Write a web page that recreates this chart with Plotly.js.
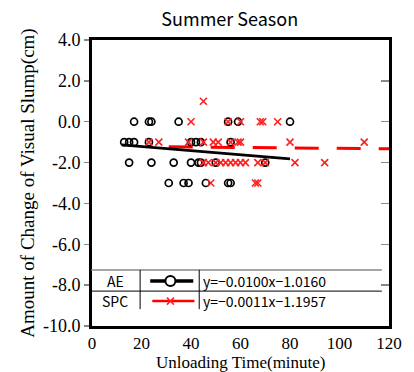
<!DOCTYPE html>
<html><head><meta charset="utf-8">
<script src="https://cdn.plot.ly/plotly-3.0.1.min.js"></script>
<style>html,body{margin:0;padding:0;background:#fff}#c{width:414px;height:372px}</style>
</head><body><div id="c"></div>
<script>
// AE data (black circles)
const aeX = [17,23,24,35,55,59,80, 13,15,17,23,40,42,44,56, 15,24,33,40,43,44,50,70, 31,37,39,46,55,56];
const aeY = [0,0,0,0,0,0,0, -1,-1,-1,-1,-1,-1,-1,-1, -2,-2,-2,-2,-2,-2,-2,-2, -3,-3,-3,-3,-3,-3];
// SPC data (red crosses)
const spcX = [45, 40,55,60,68,69,75, 23,27,39,45,49,51,56,59,60,80,110, 45,47,50,52,54,56,58,60,62,67,70,82,94, 48,66,67];
const spcY = [1, 0,0,0,0,0,0, -1,-1,-1,-1,-1,-1,-1,-1,-1,-1,-1, -2,-2,-2,-2,-2,-2,-2,-2,-2,-2,-2,-2,-2, -3,-3,-3];
// regression lines
const aeFit = {slope: -0.0100, intercept: -1.0160, xRange: [12, 80]};
const spcFit = {slope: -0.0011, intercept: -1.1957, xRange: [31, 120]};
const eqAE = "y=\u22120.0100x\u22121.0160";
const eqSPC = "y=\u22120.0011x\u22121.1957";
// ticks
const xTickVals = [0,20,40,60,80,100,120];
const xTickText = ["0","20","40","60","80","100","120"];
const yTickVals = [4,2,0,-2,-4,-6,-8,-10];
const yTickText = ["4.0","2.0","0.0","-2.0","-4.0","-6.0","-8.0","-10.0"];
const xTitle = 'Unloading Time(minute)';
const yTitle = 'Amount of Change of Visual Slump(cm)';

const fitLine = f => ({x: f.xRange, y: f.xRange.map(v => f.slope*v + f.intercept)});
const aeL = fitLine(aeFit), spcL = fitLine(spcFit);

const serif = "Liberation Serif, Times New Roman, serif";
const sans = "Noto Sans CJK JP, DejaVu Sans, sans-serif";

const traces = [
  {x: spcL.x, y: spcL.y, mode: 'lines', line: {color: '#ff0000', width: 3, dash: '24px,18px'}, hoverinfo: 'skip'},
  {x: aeL.x, y: aeL.y, mode: 'lines', line: {color: '#000', width: 2.8}, hoverinfo: 'skip'},
  {x: aeX, y: aeY, mode: 'markers', marker: {symbol: 'circle-open', size: 7, color: '#000', line: {width: 1.7}}},
  {x: spcX, y: spcY, mode: 'markers', marker: {symbol: 'x-thin-open', size: 7, color: '#ff2020', line: {width: 1.6, color: '#ff2020'}}},
  {x: [], y: [], yaxis: 'y2'}
];

const P = (o) => Object.assign({xref: 'paper', yref: 'paper'}, o);
const shapes = [
  P({type: 'line', x0: -0.003, x1: 0.976, y0: 0.196, y1: 0.196, line: {color: '#888', width: 1.5}}),
  P({type: 'line', x0: 0, x1: 0.976, y0: 0.122, y1: 0.122, line: {color: '#000', width: 1}}),
  P({type: 'line', x0: 0.162, x1: 0.162, y0: 0.196, y1: 0.059, line: {color: '#000', width: 1}}),
  P({type: 'line', x0: 0.361, x1: 0.361, y0: 0.196, y1: 0.059, line: {color: '#000', width: 1}}),
  P({type: 'line', x0: 0.196, x1: 0.341, y0: 0.157, y1: 0.157, line: {color: '#000', width: 3.5}}),
  P({type: 'circle', xsizemode: 'pixel', ysizemode: 'pixel', xanchor: 0.264, yanchor: 0.157, x0: -5, x1: 5, y0: -5, y1: 5, fillcolor: '#fff', line: {color: '#000', width: 2}}),
  P({type: 'line', x0: 0.203, x1: 0.345, y0: 0.087, y1: 0.087, line: {color: '#ff0000', width: 2.5}}),
  P({type: 'line', xsizemode: 'pixel', ysizemode: 'pixel', xanchor: 0.264, yanchor: 0.087, x0: -3.5, x1: 3.5, y0: -3.5, y1: 3.5, line: {color: '#ff2020', width: 1.5}}),
  P({type: 'line', xsizemode: 'pixel', ysizemode: 'pixel', xanchor: 0.264, yanchor: 0.087, x0: -3.5, x1: 3.5, y0: 3.5, y1: -3.5, line: {color: '#ff2020', width: 1.5}})
];

const ann = (text, x, y, xanchor) => ({text, x, y, xref: 'paper', yref: 'paper', xanchor, yanchor: 'middle', showarrow: false, font: {family: sans, size: 14, color: '#000'}});
const annotations = [
  ann('AE', 0.078, 0.157, 'center'),
  ann('SPC', 0.078, 0.087, 'center'),
  ann(eqAE, 0.368, 0.157, 'left'),
  ann(eqSPC, 0.368, 0.087, 'left'),
  {text: xTitle, x: 0.5, y: 0, xref: 'paper', yref: 'paper', xanchor: 'center', yanchor: 'top', yshift: -25,
   showarrow: false, font: {family: serif, size: 17, color: '#000'}}
];

const layout = {
  width: 414, height: 372,
  margin: {l: 92, r: 25, t: 40, b: 46},
  paper_bgcolor: '#fff', plot_bgcolor: '#fff',
  showlegend: false,
  title: {text: 'Summer Season', x: 0.555, xanchor: 'center', y: 0.948, yanchor: 'middle', font: {family: sans, size: 18, color: '#000'}},
  xaxis: {range: [0, 120], tickvals: xTickVals, ticktext: xTickText, ticks: '', showgrid: false, zeroline: false,
    showline: true, linewidth: 3, linecolor: '#000', mirror: true,
    tickfont: {family: serif, size: 17, color: '#000'}},
  yaxis: {range: [-10, 4], tickvals: yTickVals, ticktext: yTickText, ticks: 'outside', ticklen: 5, tickcolor: '#888', tickwidth: 1.5,
    showgrid: false, zeroline: false, showline: true, linewidth: 3, linecolor: '#000', mirror: true,
    tickfont: {family: serif, size: 18, color: '#000'},
    title: {text: yTitle, font: {family: serif, size: 19, color: '#000'}, standoff: 4}},
  yaxis2: {range: [-10, 4], overlaying: 'y', side: 'right', tickvals: yTickVals, ticks: 'inside', ticklen: 8, tickcolor: '#888', tickwidth: 1.5,
    showticklabels: false, showgrid: false, zeroline: false, showline: false},
  shapes, annotations
};
Plotly.newPlot('c', traces, layout, {displayModeBar: false, staticPlot: true});
</script>
</body></html>
